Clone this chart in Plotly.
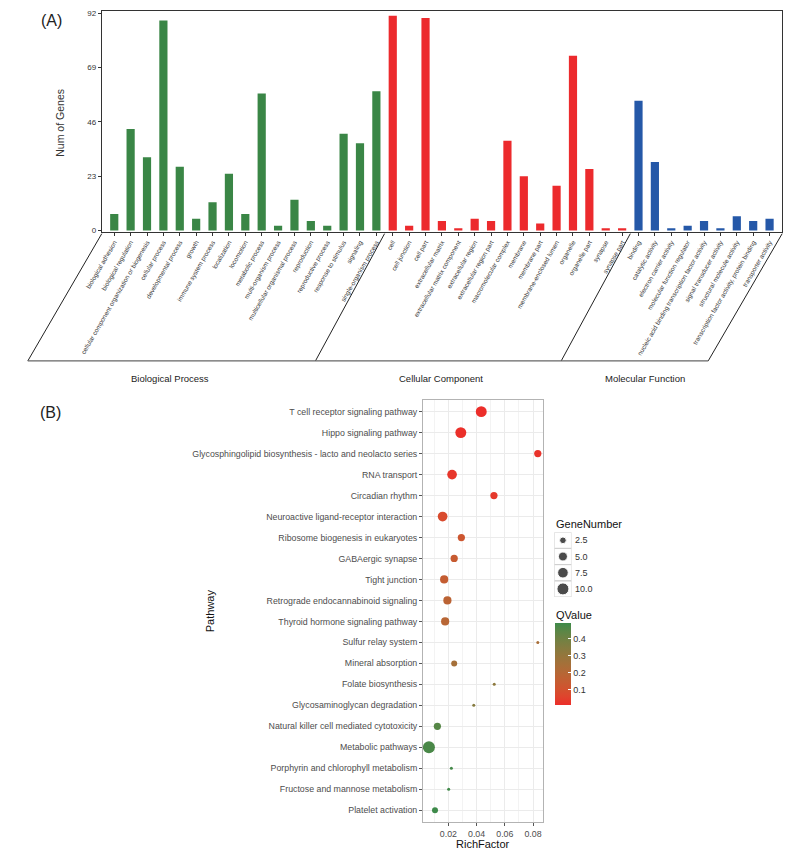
import plotly.graph_objects as go

W, H = 789, 859
FONT = "Liberation Sans, Arial, Helvetica, sans-serif"

# ---------------- Panel A data ----------------
bp_terms = ["biological adhesion", "biological regulation",
            "cellular component organization or biogenesis", "cellular process",
            "developmental process", "growth", "immune system process", "localization",
            "locomotion", "metabolic process", "multi-organism process",
            "multicellular organismal process", "reproduction", "reproductive process",
            "response to stimulus", "signaling", "single-organism process"]
bp_counts = [7, 43, 31, 89, 27, 5, 12, 24, 7, 58, 2, 13, 4, 2, 41, 37, 59]

cc_terms = ["cell", "cell junction", "cell part", "extracellular matrix",
            "extracellular matrix component", "extracellular region",
            "extracellular region part", "macromolecular complex", "membrane",
            "membrane part", "membrane-enclosed lumen", "organelle", "organelle part",
            "synapse", "synapse part"]
cc_counts = [91, 2, 90, 4, 1, 5, 4, 38, 23, 3, 19, 74, 26, 1, 1]

mf_terms = ["binding", "catalytic activity", "electron carrier activity",
            "molecular function regulator",
            "nucleic acid binding transcription factor activity",
            "signal transducer activity", "structural molecule activity",
            "transcription factor activity, protein binding", "transporter activity"]
mf_counts = [55, 29, 1, 2, 4, 1, 6, 4, 5]

group_names = ["Biological Process", "Cellular Component", "Molecular Function"]
y_ticks_A = [0, 23, 46, 69, 92]

# ---------------- Panel B data ----------------
pathways = ["T cell receptor signaling pathway", "Hippo signaling pathway",
            "Glycosphingolipid biosynthesis - lacto and neolacto series", "RNA transport",
            "Circadian rhythm", "Neuroactive ligand-receptor interaction",
            "Ribosome biogenesis in eukaryotes", "GABAergic synapse", "Tight junction",
            "Retrograde endocannabinoid signaling", "Thyroid hormone signaling pathway",
            "Sulfur relay system", "Mineral absorption", "Folate biosynthesis",
            "Glycosaminoglycan degradation", "Natural killer cell mediated cytotoxicity",
            "Metabolic pathways", "Porphyrin and chlorophyll metabolism",
            "Fructose and mannose metabolism", "Platelet activation"]
rich_factor = [0.0433, 0.0288, 0.0834, 0.0226, 0.0523, 0.0159, 0.0292, 0.0241, 0.0170,
               0.0193, 0.0177, 0.0834, 0.0241, 0.0525, 0.0380, 0.0122, 0.0062, 0.0221,
               0.0202, 0.0105]
gene_number = [8, 8, 3, 6, 3, 6, 3, 3, 4, 4, 4, 1, 2, 1, 1, 3, 10, 1, 1, 2]
q_value = [0.010, 0.015, 0.020, 0.028, 0.035, 0.080, 0.120, 0.140, 0.150, 0.180, 0.190,
           0.240, 0.250, 0.320, 0.340, 0.450, 0.470, 0.480, 0.485, 0.490]
size_breaks = [2.5, 5.0, 7.5, 10.0]
q_breaks = [0.1, 0.2, 0.3, 0.4]
x_ticks_B = [0.02, 0.04, 0.06, 0.08]

# ---------------- helpers ----------------
def px(x):
    return x / W


def py(y):
    return 1 - y / H


def hex2rgb(h):
    h = h.lstrip("#")
    return [int(h[i:i + 2], 16) / 255 for i in (0, 2, 4)]


def rgb2lab(c):
    def lin(v):
        return ((v + 0.055) / 1.055) ** 2.4 if v > 0.04045 else v / 12.92
    r, g, b = [lin(v) for v in c]
    X = (0.4124 * r + 0.3576 * g + 0.1805 * b) / 0.95047
    Y = (0.2126 * r + 0.7152 * g + 0.0722 * b)
    Z = (0.0193 * r + 0.1192 * g + 0.9505 * b) / 1.08883

    def f(t):
        return t ** (1 / 3) if t > 0.008856 else 7.787 * t + 16 / 116
    fx, fy, fz = f(X), f(Y), f(Z)
    return [116 * fy - 16, 500 * (fx - fy), 200 * (fy - fz)]


def lab2rgb(lab):
    L, a, b = lab
    fy = (L + 16) / 116
    fx = fy + a / 500
    fz = fy - b / 200

    def finv(t):
        return t ** 3 if t ** 3 > 0.008856 else (t - 16 / 116) / 7.787
    X, Y, Z = finv(fx) * 0.95047, finv(fy), finv(fz) * 1.08883
    r = 3.2406 * X - 1.5372 * Y - 0.4986 * Z
    g = -0.9689 * X + 1.8758 * Y + 0.0415 * Z
    bb = 0.0557 * X - 0.2040 * Y + 1.0570 * Z

    def gam(v):
        v = v * 12.92 if v <= 0.0031308 else 1.055 * v ** (1 / 2.4) - 0.055
        return max(0, min(255, round(v * 255)))
    return "rgb(%d,%d,%d)" % (gam(r), gam(g), gam(bb))


LOW, HIGH = "#EC2E2A", "#3E8A4A"
l1, l2 = rgb2lab(hex2rgb(LOW)), rgb2lab(hex2rgb(HIGH))
colorscale = []
for i in range(11):
    t = i / 10
    colorscale.append([t, lab2rgb([l1[k] + (l2[k] - l1[k]) * t for k in range(3)])])

gmin, gmax = min(gene_number), max(gene_number)


def dot_size(v):
    return 3 + 9 * ((v - gmin) / (gmax - gmin)) ** 0.5


# ---------------- figure ----------------
fig = go.Figure()

terms = bp_terms + cc_terms + mf_terms
counts = bp_counts + cc_counts + mf_counts
colors = (["#3A8646"] * len(bp_terms) + ["#EC2A2D"] * len(cc_terms)
          + ["#2558A8"] * len(mf_terms))
idx = list(range(len(terms)))

fig.add_trace(go.Bar(x=idx, y=counts, marker=dict(color=colors, line=dict(width=0)),
                     width=0.5, xaxis="x", yaxis="y", showlegend=False,
                     hovertext=terms))

fig.add_trace(go.Scatter(
    x=rich_factor, y=pathways, mode="markers", xaxis="x2", yaxis="y2",
    showlegend=False,
    marker=dict(size=[dot_size(g) for g in gene_number], color=q_value,
                colorscale=colorscale, line=dict(width=0), opacity=1,
                colorbar=dict(x=px(549), xanchor="left", xpad=0,
                              y=py(625), yanchor="top", ypad=0,
                              len=82, lenmode="pixels", thickness=16,
                              outlinewidth=0, tickvals=q_breaks,
                              ticktext=["%.1f" % q for q in q_breaks],
                              ticks="inside", ticklen=3, tickcolor="white",
                              tickfont=dict(size=9, color="#333", family=FONT)))))

# size legend (own small axes)
fig.add_trace(go.Scatter(
    x=[0] * len(size_breaks), y=list(range(len(size_breaks))), mode="markers",
    xaxis="x3", yaxis="y3", showlegend=False, hoverinfo="skip",
    marker=dict(size=[dot_size(s) for s in size_breaks], color="black")))

# Panel A axis geometry
xA0, xA1 = 83, 782
rA = [-0.76, 40.77]
def xA_px(i):
    return xA0 + (i - rA[0]) * (xA1 - xA0) / (rA[1] - rA[0])

axis_line = dict(showline=True, linecolor="#333", linewidth=1, mirror=True,
                 zeroline=False, showgrid=False)

fig.update_layout(
    width=W, height=H, margin=dict(l=0, r=0, t=0, b=0),
    paper_bgcolor="white", plot_bgcolor="white",
    font=dict(family=FONT, color="#222"),
    xaxis=dict(domain=[px(xA0), px(xA1)], range=rA, tickmode="array", tickvals=idx,
               ticktext=terms, tickangle=-60, tickfont=dict(size=6.4, color="#333"),
               ticks="outside", ticklen=3, tickcolor="#333", anchor="y", **axis_line),
    yaxis=dict(domain=[py(231.5), py(9)], range=[-0.7, 93], tickvals=y_ticks_A,
               tickfont=dict(size=8, color="#333"), ticks="outside", ticklen=3,
               tickcolor="#333", anchor="x", **axis_line),
    xaxis2=dict(domain=[px(413), px(536)], range=[0.0020, 0.0869], anchor="y2",
                tickvals=x_ticks_B, ticktext=["%.2f" % v for v in x_ticks_B],
                tickfont=dict(size=8.8, color="#4D4D4D"), ticks="outside", ticklen=3,
                tickcolor="#555", showgrid=True, gridcolor="#EBEBEB", gridwidth=1,
                minor=dict(tickvals=[0.01, 0.03, 0.05, 0.07], showgrid=True,
                           gridcolor="#F3F3F3", gridwidth=0.6),
                showline=True, linecolor="#B3B3B3", mirror=True, zeroline=False),
    yaxis2=dict(domain=[py(825), py(400)], anchor="x2", type="category",
                categoryorder="array", categoryarray=pathways, range=[19.57, -0.57],
                tickfont=dict(size=8.8, color="#4D4D4D"), ticks="outside", ticklen=3,
                tickcolor="#555", showgrid=True, gridcolor="#EBEBEB", gridwidth=1,
                showline=True, linecolor="#B3B3B3", mirror=True, zeroline=False),
    xaxis3=dict(domain=[px(548), px(565.5)], range=[-0.5, 0.5], anchor="y3",
                visible=False, fixedrange=True),
    yaxis3=dict(domain=[py(598.5), py(533.3)], range=[3.5, -0.5], anchor="x3",
                visible=False, fixedrange=True),
)

shapes = []
# parallelogram group separators under panel A
top_y, bot_y = 233, 361
bounds = [rA[0], 16.5, 31.5, rA[1]]
slants = [76, 71, 71, 76]
bottoms = []
for b, s in zip(bounds, slants):
    xt = xA_px(b)
    shapes.append(dict(type="line", xref="paper", yref="paper", x0=px(xt), y0=py(top_y),
                       x1=px(xt - s), y1=py(bot_y), line=dict(color="#222", width=1)))
    bottoms.append(xt - s)
shapes.append(dict(type="line", xref="paper", yref="paper", x0=px(bottoms[0]),
                   y0=py(bot_y), x1=px(bottoms[-1]), y1=py(bot_y),
                   line=dict(color="#666", width=1.3)))
# legend key boxes
for i in range(len(size_breaks)):
    shapes.append(dict(type="rect", xref="x3", yref="y3", x0=-0.5, x1=0.5,
                       y0=i - 0.5, y1=i + 0.5, line=dict(color="#D0D0D0", width=1),
                       layer="below"))
fig.update_layout(shapes=shapes)

ann = []
ann.append(dict(text="(A)", x=px(31), y=py(18.5), font=dict(size=16, color="#222")))
ann.append(dict(text="(B)", x=px(30.5), y=py(413), font=dict(size=16, color="#222")))
ann.append(dict(text="Num of Genes", x=px(40.5), y=py(121), textangle=-90,
                font=dict(size=10.5, color="#333")))
for name, cx in zip(group_names, [153, 431, 641]):
    ann.append(dict(text=name, x=px(cx), y=py(379), font=dict(size=9.5, color="#222")))
ann.append(dict(text="Pathway", x=px(195), y=py(612), textangle=-90,
                font=dict(size=11, color="#111")))
ann.append(dict(text="RichFactor", x=px(475), y=py(847), font=dict(size=11, color="#111")))
ann.append(dict(text="GeneNumber", x=px(548), y=py(525), xanchor="left",
                font=dict(size=11, color="#111")))
ann.append(dict(text="QValue", x=px(548), y=py(617), xanchor="left",
                font=dict(size=11, color="#111")))
for i, s in enumerate(size_breaks):
    ann.append(dict(text="%.1f" % s, x=px(567.5), y=i, yref="y3", xref="paper",
                    xanchor="left", font=dict(size=9, color="#333")))
for a in ann:
    a.setdefault("xref", "paper")
    a.setdefault("yref", "paper")
    a.setdefault("xanchor", "center")
    a.setdefault("yanchor", "middle")
    a["showarrow"] = False
fig.update_layout(annotations=ann)

fig.write_html("out.html", config={"displayModeBar": False},
               post_script="document.body.style.margin='0px';"
                           "document.body.style.padding='0px';"
                           "document.body.style.overflow='hidden';")
